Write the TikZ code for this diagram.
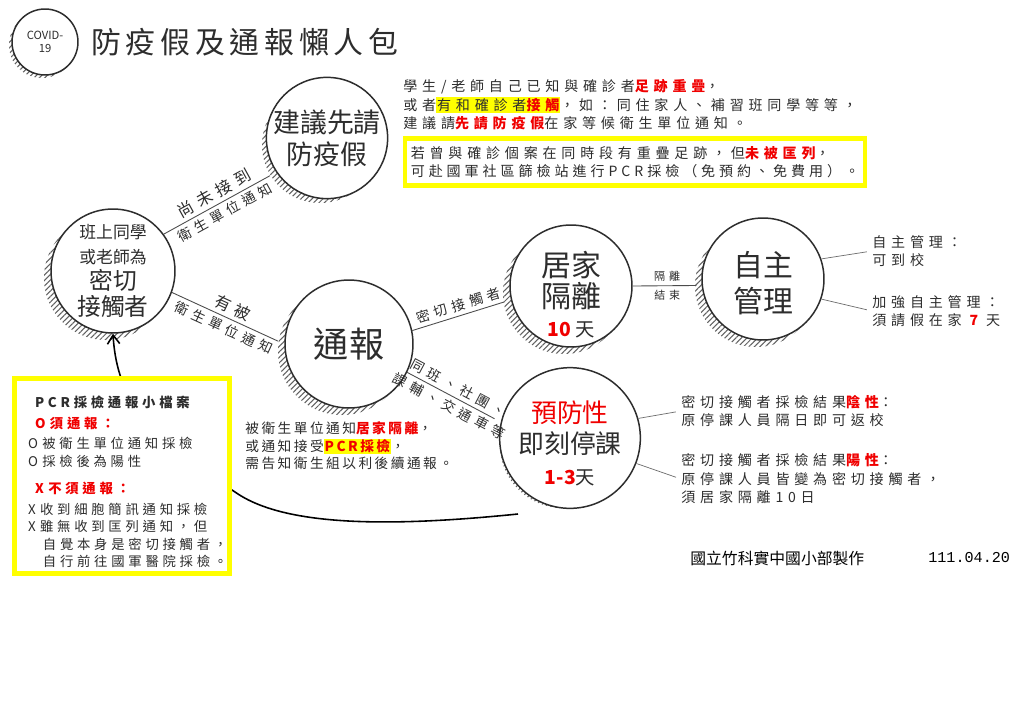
\documentclass[tikz,border=0pt]{standalone}
\usepackage{fontspec}
\usepackage{xcolor}
\setmainfont{Noto Sans CJK TC}
\newfontfamily\wide[LetterSpace=34]{Noto Sans CJK TC}
\newfontfamily\snug[LetterSpace=28]{Noto Sans CJK TC}
\newfontfamily\close[LetterSpace=18]{Noto Sans CJK TC}
\newfontfamily\titlefont[LetterSpace=16]{Noto Sans CJK TC}
\newfontfamily\datefont{Liberation Mono}
\usetikzlibrary{
  arrows.meta,
  patterns.meta,
  backgrounds
}
\definecolor{ink}{RGB}{45,45,45}
\definecolor{hired}{RGB}{240,0,0}
\definecolor{hiyellow}{RGB}{255,255,0}
\newcommand{\setsz}[2]{\fontsize{#1}{#2}\selectfont}
\newcommand{\redbf}[1]{\textcolor{hired}{\bfseries #1}}
\newcommand{\ybg}[1]{{\setlength{\fboxsep}{0.5pt}\colorbox{hiyellow}{#1}}}

\begin{document}
\begin{tikzpicture}[
  x=0.02cm, y=-0.02cm,
  bubble/.style={circle, draw=ink, line width=0.85pt, fill=white, inner sep=0pt,
                 align=center, text=ink, minimum size=#1},
  hatch/.style={pattern={Lines[angle=45, distance=2.2pt, line width=0.6pt]}, pattern color=ink!75},
  link/.style={draw=ink!85, line width=0.5pt},
  lbl/.style={font=\wide\setsz{7.8}{9}, text=ink, sloped, inner sep=2pt},
  note/.style={font=\wide\setsz{8}{10.5}, text=ink, align=left, anchor=west, inner sep=0pt},
  pointer/.style={draw=ink!70, line width=0.4pt},
  backarrow/.style={-{Straight Barb[length=5pt, width=7pt]}, line width=0.9pt, black},
  frame/.style={draw=hiyellow, line width=2.3pt, fill=white, text=ink}
]
  \useasboundingbox (0,0) rectangle (1024,724);

  \node[bubble=1.32cm, font=\setsz{6.4}{7.4}] (covid) at (45,42) {COVID-\\19};
  \node[anchor=west, inner sep=0pt, text=ink, font=\titlefont\setsz{17}{20}] (title) at (91,42) {防疫假及通報懶人包};

  \node[bubble=2.48cm, font=\setsz{13.5}{15}] (cls) at (113,271)
    {{\setsz{9.6}{11}班上同學}\\[-1pt]{\setsz{9.6}{11}或老師為}\\密切\\接觸者};
  \node[bubble=2.32cm, font=\setsz{15.3}{18}] (adv) at (327,138) {建議先請\\防疫假};
  \node[bubble=2.56cm, font=\setsz{20}{22}] (rep) at (349,344) {通報};
  \node[bubble=2.44cm, font=\setsz{17}{17.5}] (home) at (571,286)
    {\rule{0pt}{24pt}居家\\隔離\\[-1pt]{\setsz{11}{12}\redbf{10} 天}};
  \node[bubble=2.52cm, font=\setsz{14.7}{17.5}] (prev) at (570,438)
    {\rule{0pt}{18.5pt}\textcolor{hired}{預防性}\\即刻停課\\{\setsz{11}{12}\redbf{1-3}天}};
  \node[bubble=2.44cm, font=\setsz{17}{20}] (self) at (763,279) {\rule{0pt}{19pt}自主\\管理};

  \foreach \src/\dst/\up/\down in {
    cls.36/adv.214/{\setsz{9.2}{10}尚未接到}/衛生單位通知,
    cls.-20/rep.180/{\setsz{9.2}{10}有被}/衛生單位通知,
    rep.-26/prev.167/同班、社團、/課輔、交通車等
  }{
    \draw[link, shorten >=4pt] (\src) -- node[lbl, above]{\up} node[lbl, below]{\down} (\dst);
  }
  \draw[link, shorten >=4pt] (rep.12) -- node[lbl, above]{密切接觸者} (home.193);
  \draw[link, shorten >=3pt] (home.0) -- node[lbl, above, font=\wide\setsz{6.3}{7}]{隔離}
    node[lbl, below, font=\wide\setsz{6.3}{7}]{結束} (self.186);

  \node[note] (hint) at (403,105)
    {學生/老師自己已知與確診者\redbf{足跡重疊}，\\
     或者\ybg{有和確診者\redbf{接觸}}，如：同住家人、補習班同學等等，\\
     建議請\redbf{先請防疫假}在家等候衛生單位通知。};
  \node[frame, minimum width=9.22cm, minimum height=0.94cm, align=left,
        font=\setsz{8}{10.3}] (tipbox) at (635,162)
    {{\wide 若曾與確診個案在同時段有重疊足跡，但\redbf{未被匡列}，}\\
     {\snug 可赴國軍社區篩檢站進行PCR採檢（免預約、免費用）。}};

  \node[note] (selfok) at (872,251) {自主管理：\\可到校};
  \node[note] (selfstay) at (872,311) {加強自主管理：\\須請假在家 \redbf{7} 天};
  \node[note] (negnote) at (681,411) {密切接觸者採檢結果\redbf{陰性}：\\原停課人員隔日即可返校};
  \node[note] (posnote) at (681,479)
    {密切接觸者採檢結果\redbf{陽性}：\\原停課人員皆變為密切接觸者，\\須居家隔離10日};
  \foreach \src/\dst in {self.19/selfok, self.-19/selfstay, prev.16/negnote, prev.-21/posnote}
    \draw[pointer, shorten >=3pt] (\src) -- (\dst.west);

  \node[note, font=\close\setsz{7.8}{10}] (rule) at (245,446)
    {被衛生單位通知\redbf{居家隔離}，\\
     或通知接受\ybg{\redbf{PCR採檢}}，\\
     需告知衛生組以利後續通報。};

  \coordinate (curvestart) at (518,514);
  \draw[backarrow] (curvestart) .. controls (400,526) and (290,528) .. (238,494)
    .. controls (175,452) and (118,420) .. (cls.south);

  \node[frame, line width=2.8pt, minimum width=4.3cm, minimum height=3.86cm, align=left,
        inner xsep=7.6pt, text width=3.76cm, font=\snug\setsz{7.6}{9.8}] (legend) at (122,476)
    {\rule{0pt}{13pt}\hspace*{4pt}{\bfseries PCR採檢通報小檔案}\\[2pt]
     \hspace*{4pt}\redbf{O 須通報：}\\[2pt]
     O 被衛生單位通知採檢\\
     O 採檢後為陽性\\[6pt]
     \hspace*{4pt}\redbf{X 不須通報：}\\[2pt]
     X 收到細胞簡訊通知採檢\\
     X 雖無收到匡列通知，但\\
     \hspace*{8.5pt}自覺本身是密切接觸者，\\
     \hspace*{8.5pt}自行前往國軍醫院採檢。};

  \node[anchor=west, inner sep=0pt, text=black, font=\setsz{9}{10}] (maker) at (690,558) {國立竹科實中國小部製作};
  \node[anchor=west, inner sep=0pt, text=black, font=\datefont\setsz{8.6}{10}] (date) at (928,558) {111.04.20};

  \begin{scope}[on background layer]
    \fill[white] (0,0) rectangle (1024,724);
    \foreach \bub/\rad/\off in {covid/33/3, adv/58/7, cls/62/7, rep/64/7, home/61/7, prev/63/7, self/61/7}
      \fill[hatch] ([shift={(-\off,\off)}]\bub.center) circle (\rad);
  \end{scope}
\end{tikzpicture}
\end{document}
